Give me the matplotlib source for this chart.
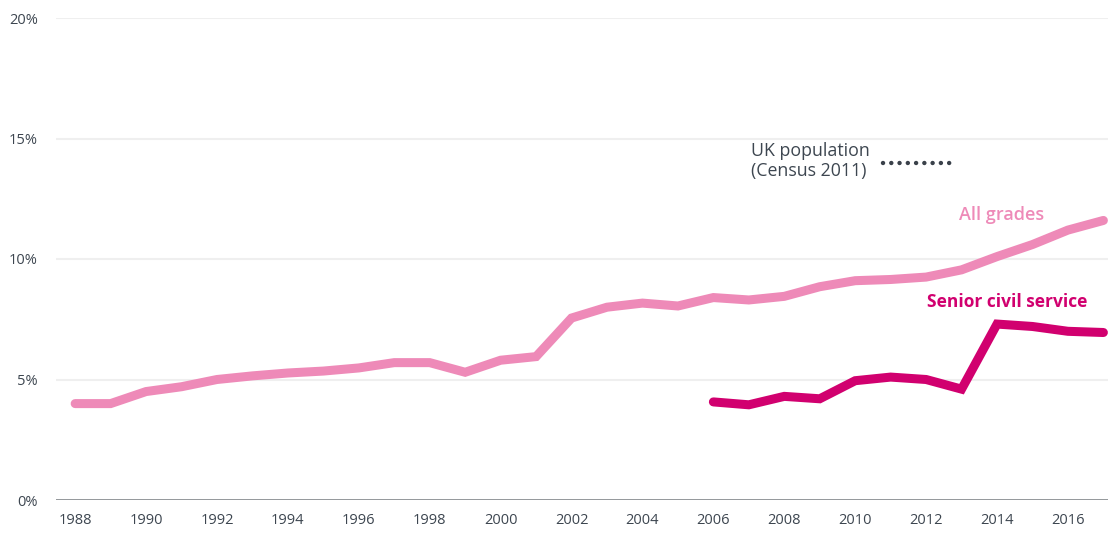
import matplotlib.pyplot as plt
import numpy as np

plt.rcParams['font.family'] = ['Open Sans', 'DejaVu Sans']

# percentage of staff from ethnic minority groups
years_all = list(range(1988, 2018))
all_grades = [4.0, 4.0, 4.5, 4.7, 5.0, 5.15, 5.27, 5.35, 5.48, 5.7,
              5.7, 5.3, 5.8, 5.95, 7.55, 8.0, 8.17, 8.05, 8.4, 8.3,
              8.45, 8.85, 9.1, 9.15, 9.25, 9.55, 10.1, 10.6, 11.2, 11.6]

years_scs = list(range(2006, 2018))
senior = [4.07, 3.95, 4.3, 4.2, 4.95, 5.1, 5.0, 4.6, 7.3, 7.2, 7.0, 6.95]

uk_population = 14.0
uk_span = [2010.78, 2012.68]

yticks = [0, 5, 10, 15, 20]
xticks = list(range(1988, 2017, 2))

pink = '#ee8ab8'
magenta = '#d1006f'
grey_text = '#3d4650'

fig = plt.figure(figsize=(11.08, 5.36), dpi=100)
ax = fig.add_axes([56 / 1108, 36 / 536, 1 - 56 / 1108, (500 - 18) / 536])

for y in yticks[1:]:
    ax.axhline(y, color='#efefef', linewidth=1.5, zorder=0)
ax.axhline(0, color='#8a8e92', linewidth=2, zorder=1)

ax.plot(years_all, all_grades, color=pink, linewidth=6.5,
        solid_capstyle='round', solid_joinstyle='miter', zorder=3)
ax.plot(years_scs, senior, color=magenta, linewidth=6.5,
        solid_capstyle='round', solid_joinstyle='miter', zorder=4)
# dotted reference mark for the census share
ax.plot(uk_span, [uk_population, uk_population], color='#3a414a',
        linewidth=3.2, linestyle=(0, (0.01, 1.85)), dash_capstyle='round', zorder=3)

ax.text(2015.33, 11.83, 'All grades', color=pink, fontsize=13,
        fontweight='semibold', ha='right', va='center')
ax.text(2016.54, 8.2, 'Senior civil service', color=magenta, fontsize=12.5,
        fontweight='bold', ha='right', va='center')
ax.text(2007.06, 14.07, 'UK population\n(Census 2011)', color=grey_text,
        fontsize=12.8, ha='left', va='center', linespacing=1.2)

ax.set_xlim(1987.46, 2017.13)
ax.set_ylim(0, 20)
ax.set_yticks(yticks)
ax.set_yticklabels([f'{v}%' for v in yticks])
ax.set_xticks(xticks)
ax.tick_params(axis='both', length=0, labelsize=10.5, colors=grey_text)
ax.tick_params(axis='y', pad=13)
ax.tick_params(axis='x', pad=9)
for s in ax.spines.values():
    s.set_visible(False)

fig.savefig('out.png', dpi=100)
